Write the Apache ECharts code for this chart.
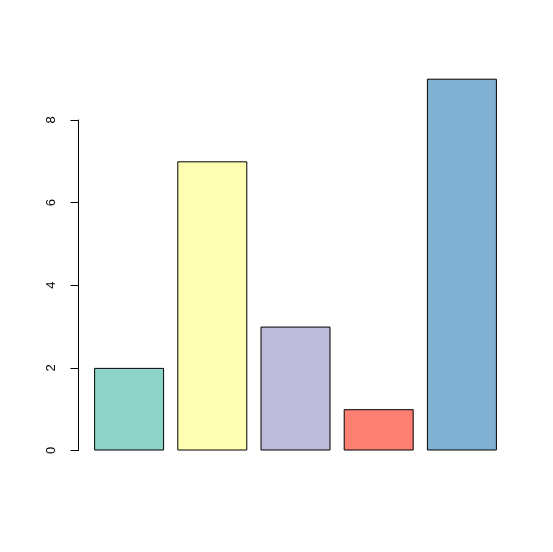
<!DOCTYPE html>
<html><head><meta charset="utf-8">
<script src="https://cdn.jsdelivr.net/npm/echarts@6/dist/echarts.min.js"></script>
<style>html,body{margin:0;padding:0;background:#fff}#c{width:553px;height:552px}</style>
</head><body><div id="c"></div>
<script>
const categories = ['A', 'B', 'C', 'D', 'E'];
const values = [2, 7, 3, 1, 9];
const colors = ['#8DD3C7', '#FFFFB3', '#BEBADA', '#FB8072', '#80B1D3'];
const yTicks = [0, 2, 4, 6, 8];

const chart = echarts.init(document.getElementById('c'), null, {renderer: 'canvas'});
chart.setOption({
  animation: false,
  backgroundColor: '#ffffff',
  grid: {left: 87.5, right: 49.5, top: 120, bottom: 101.5, containLabel: false},
  xAxis: {
    type: 'category', data: categories,
    axisLine: {show: false}, axisTick: {show: false}, axisLabel: {show: false}
  },
  yAxis: {
    type: 'value', min: yTicks[0], max: yTicks[yTicks.length - 1], interval: 2,
    offset: 9,
    splitLine: {show: false},
    axisLine: {show: true, lineStyle: {color: '#000', width: 1}},
    axisTick: {show: true, length: 8, lineStyle: {color: '#000', width: 1}},
    axisLabel: {rotate: 90, margin: 21, color: '#000', fontSize: 13, fontFamily: 'Liberation Sans, Arial, sans-serif'}
  },
  series: [{
    type: 'bar', clip: false,
    barWidth: 70,
    data: values.map((v, i) => ({value: v, itemStyle: {color: colors[i]}})),
    itemStyle: {borderColor: '#000', borderWidth: 1}
  }]
});
</script></body></html>
